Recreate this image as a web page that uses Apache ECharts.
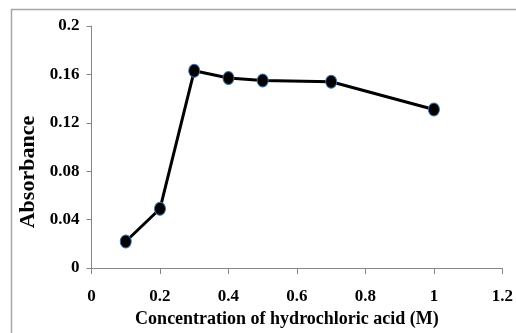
<!DOCTYPE html>
<html>
<head>
<meta charset="utf-8">
<script src="https://cdn.jsdelivr.net/npm/echarts@6/dist/echarts.min.js"></script>
<style>
html,body{margin:0;padding:0;background:#fff;}
#main{width:516px;height:333px;}
</style>
</head>
<body>
<div id="main"></div>
<script>
const concentration = [0.1, 0.2, 0.3, 0.4, 0.5, 0.7, 1.0];
const absorbance = [0.022, 0.049, 0.163, 0.157, 0.155, 0.154, 0.131];
const xTitle = 'Concentration of hydrochloric acid (M)';
const yTitle = 'Absorbance';

const chart = echarts.init(document.getElementById('main'), null, {renderer: 'canvas'});
const font = 'Liberation Serif, Times New Roman, serif';
chart.setOption({
  animation: false,
  backgroundColor: '#fff',
  graphic: [{
    type: 'rect',
    shape: {x: 11.5, y: 9.5, width: 700, height: 500},
    style: {fill: 'none', stroke: '#a6a6a6', lineWidth: 1.5},
    silent: true, z: -1
  }],
  grid: {left: 91.5, right: 12, top: 26, bottom: 63.7},
  xAxis: {
    type: 'value', min: 0, max: 1.2, interval: 0.2,
    splitLine: {show: false},
    axisLine: {show: true, lineStyle: {color: '#868686', width: 1}},
    axisTick: {show: true, length: 6, lineStyle: {color: '#868686'}},
    axisLabel: {margin: 20, color: '#000', fontFamily: font, fontWeight: 'bold', fontSize: 17,
      formatter: v => String(+v.toFixed(1))},
    name: xTitle, nameLocation: 'middle', nameGap: 40,
    nameTextStyle: {color: '#000', fontFamily: font, fontWeight: 'bold', fontSize: 18, padding: [0, 20, 0, 0]}
  },
  yAxis: {
    type: 'value', min: 0, max: 0.2, interval: 0.04,
    splitLine: {show: false},
    axisLine: {show: true, lineStyle: {color: '#868686', width: 1}},
    axisTick: {show: true, length: 5, lineStyle: {color: '#868686'}},
    axisLabel: {margin: 12, color: '#000', fontFamily: font, fontWeight: 'bold', fontSize: 17,
      formatter: v => String(+v.toFixed(2))},
    name: yTitle, nameLocation: 'middle', nameGap: 47,
    nameTextStyle: {color: '#000', fontFamily: font, fontWeight: 'bold', fontSize: 22, padding: [0, 50, 0, 0]}
  },
  series: [{
    type: 'line',
    data: concentration.map((c, i) => [c, absorbance[i]]),
    symbol: 'circle', symbolSize: [11, 13],
    lineStyle: {color: '#000', width: 3},
    itemStyle: {color: '#000', borderColor: '#3f6fa8', borderWidth: 1},
    z: 3
  }]
});
</script>
</body>
</html>
